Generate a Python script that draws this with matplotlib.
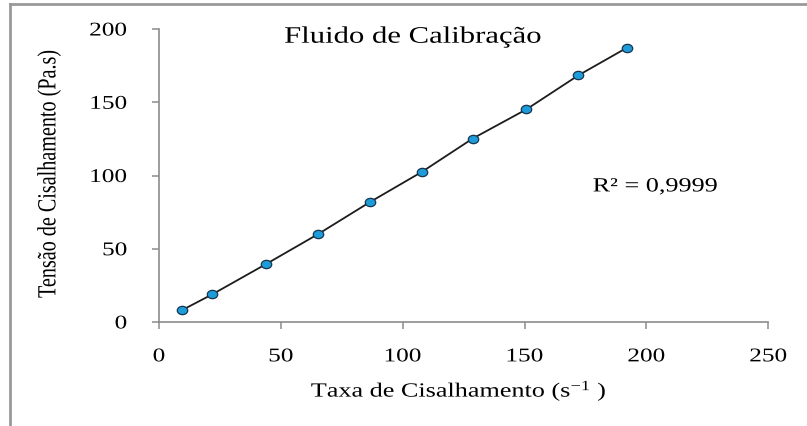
#!/usr/bin/env python3
"""Curva de calibração: tensão de cisalhamento x taxa de cisalhamento."""
import matplotlib as mpl
mpl.use('Agg')
import matplotlib.pyplot as plt
from matplotlib.lines import Line2D
from matplotlib.markers import MarkerStyle
from matplotlib.patheffects import AbstractPathEffect
from matplotlib.transforms import Affine2D

# pontos medidos
taxa = [9.6, 21.9, 43.9, 65.3, 86.5, 107.9, 128.7, 150.8, 172.1, 192.1]
tensao = [8.2, 18.9, 39.5, 60.0, 81.8, 102.5, 125.2, 145.2, 168.4, 187.3]
r2_text = 'R\u00b2 = 0,9999'
xticks = [0, 50, 100, 150, 200, 250]
yticks = [0, 50, 100, 150, 200]

WIDE = 1.3  # letras alargadas na horizontal

plt.rcParams['font.family'] = ['Liberation Serif', 'DejaVu Serif']
plt.rcParams['mathtext.fontset'] = 'custom'
plt.rcParams['mathtext.rm'] = 'Liberation Serif'
plt.rcParams['mathtext.it'] = 'Liberation Serif'


class Stretch(AbstractPathEffect):
	"""Estica o texto em torno de um ponto de ancoragem."""

	def __init__(self, sx=1.0, sy=1.0, anchor='center'):
		super().__init__()
		self.sx, self.sy, self.anchor = sx, sy, anchor

	def draw_path(self, renderer, gc, tpath, affine, rgbFace=None):
		ext = tpath.get_extents()
		if self.anchor == 'right':
			cx = ext.x1
		elif self.anchor == 'left':
			cx = ext.x0
		else:
			cx = (ext.x0 + ext.x1) / 2
		cy = (ext.y0 + ext.y1) / 2
		pre = Affine2D().translate(-cx, -cy).scale(self.sx, self.sy).translate(cx, cy)
		renderer.draw_path(gc, tpath, pre + affine, rgbFace)


def main():
	fig = plt.figure(figsize=(8.07, 4.27), dpi=100)
	ax = fig.add_axes([0.197, 0.2436, 0.755, 0.6861])

	dot = MarkerStyle('o', transform=Affine2D().scale(1.25, 1.0))
	ax.plot(taxa, tensao, '-', color='#1c1c1c', lw=1.3, zorder=2)
	ax.plot(taxa, tensao, ls='none', marker=dot, ms=6, mfc='#1c9cd8',
			mec='#17354f', mew=0.9, zorder=3)

	ax.set_xlim(0, 250)
	ax.set_ylim(0, 200)
	ax.set_xticks(xticks)
	ax.set_yticks(yticks)
	for s in ('top', 'right'):
		ax.spines[s].set_visible(False)
	for s in ('left', 'bottom'):
		ax.spines[s].set_color('#8c8c8c')
		ax.spines[s].set_linewidth(1.2)
	ax.tick_params(direction='out', length=5, width=1.1, color='#8c8c8c',
				   labelsize=14)
	ax.tick_params(axis='x', pad=14)
	ax.tick_params(axis='y', pad=18)
	for lab in ax.get_xticklabels():
		lab.set_path_effects([Stretch(WIDE, 1.0)])
	for lab in ax.get_yticklabels():
		lab.set_path_effects([Stretch(WIDE, 1.0, anchor='right')])

	xl = ax.set_xlabel('Taxa de Cisalhamento (s$^{-1}$ )', fontsize=14.5)
	xl.set_va('center')
	ax.xaxis.set_label_coords(0.492, -0.235)
	xl.set_path_effects([Stretch(WIDE, 1.0)])

	yl = ax.set_ylabel('Tensão de Cisalhamento (Pa.s)', fontsize=14.5)
	yl.set_va('center')
	ax.yaxis.set_label_coords(-0.18, 0.505)
	yl.set_path_effects([Stretch(1.0, WIDE)])

	t = ax.text(0.417, 0.972, 'Fluido de Calibração', transform=ax.transAxes,
				fontsize=17, ha='center', va='center')
	t.set_path_effects([Stretch(WIDE, 1.0)])
	r = ax.text(0.712, 0.461, r2_text, transform=ax.transAxes,
				fontsize=14.5, ha='left', va='center')
	r.set_path_effects([Stretch(WIDE, 1.0, anchor='left')])

	# moldura parcial do gráfico
	fig.add_artist(Line2D([10 / 807, 10 / 807], [0, 1 - 5 / 427],
						  transform=fig.transFigure, color='#999999', lw=2))
	fig.add_artist(Line2D([10 / 807, 1], [1 - 5 / 427, 1 - 5 / 427],
						  transform=fig.transFigure, color='#999999', lw=2))

	fig.savefig('out.png', dpi=100)


if __name__ == '__main__':
	main()
